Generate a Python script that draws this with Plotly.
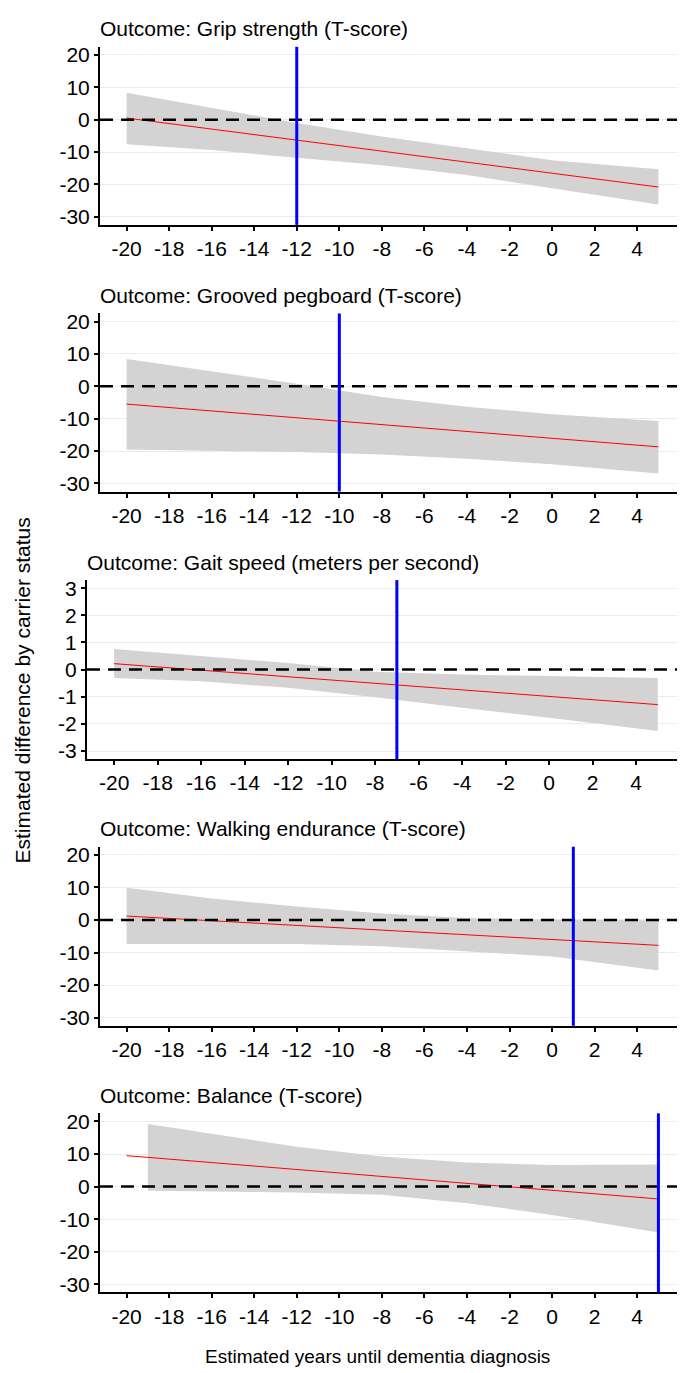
import plotly.graph_objects as go

years = [-20, -16, -12, -8, -4, 0, 5]

titles = [
    "Outcome: Grip strength (T-score)",
    "Outcome: Grooved pegboard (T-score)",
    "Outcome: Gait speed (meters per second)",
    "Outcome: Walking endurance (T-score)",
    "Outcome: Balance (T-score)",
]

grip_est = [0.5, -2.9, -6.3, -9.7, -13.1, -16.5, -20.8]
grip_upper = [8.3, 3.6, -1.0, -5.2, -8.9, -12.5, -15.3]
grip_lower = [-7.6, -9.4, -11.8, -14.1, -17.1, -21.2, -26.2]

peg_est = [-5.5, -7.6, -9.7, -11.8, -13.9, -16.0, -18.7]
peg_upper = [8.4, 4.6, 0.8, -3.3, -6.3, -8.6, -10.7]
peg_lower = [-19.5, -19.8, -20.3, -21.1, -22.4, -24.1, -26.9]

gait_est = [0.22, -0.02, -0.26, -0.50, -0.74, -0.98, -1.29]
gait_upper = [0.76, 0.50, 0.24, -0.08, -0.18, -0.24, -0.31]
gait_lower = [-0.31, -0.43, -0.67, -1.02, -1.41, -1.77, -2.26]

walk_est = [1.2, -0.2, -1.7, -3.1, -4.6, -6.0, -7.8]
walk_upper = [9.9, 6.6, 4.1, 2.0, 0.6, 0.1, -0.1]
walk_lower = [-7.4, -7.4, -7.4, -8.1, -9.7, -11.2, -15.5]

bal_est = [9.5, 7.4, 5.2, 3.1, 1.0, -1.1, -3.8]
bal_ribbon_years = [-19, -16, -12, -8, -4, 0, 5]
bal_upper = [19.2, 16.3, 12.2, 9.2, 7.4, 6.6, 6.8]
bal_lower = [-1.3, -1.5, -1.8, -2.5, -5.1, -8.7, -14.1]

# blue reference line per outcome
vlines = [-12, -10, -7, 1, 5]

x_ticks = list(range(-20, 5, 2))
t_ticks = [-30, -20, -10, 0, 10, 20]
gait_ticks = [-3, -2, -1, 0, 1, 2, 3]

# page body has an 8px margin, so the figure is placed 8px in from the corner
OFF = 8
W, H = 685 - OFF, 1373 - OFF
FONT = "Liberation Sans, Arial, Helvetica, sans-serif"


def px(v):
    return (v - OFF) / W


def py(v):
    return 1 - (v - OFF) / H


def labels(vals):
    return [str(v) for v in vals]


panels = [
    dict(est=grip_est, rx=years, up=grip_upper, lo=grip_lower, ticks=t_ticks, rng=[-32.5, 22.5], left=100, top=43, bottom=222, ty=25),
    dict(est=peg_est, rx=years, up=peg_upper, lo=peg_lower, ticks=t_ticks, rng=[-32.5, 22.5], left=100, top=311, bottom=490, ty=293),
    dict(est=gait_est, rx=years, up=gait_upper, lo=gait_lower, ticks=gait_ticks, rng=[-3.3, 3.3], left=87, top=579, bottom=759, ty=561),
    dict(est=walk_est, rx=years, up=walk_upper, lo=walk_lower, ticks=t_ticks, rng=[-32.5, 22.5], left=100, top=847, bottom=1027, ty=829),
    dict(est=bal_est, rx=bal_ribbon_years, up=bal_upper, lo=bal_lower, ticks=t_ticks, rng=[-32.5, 22.5], left=100, top=1115, bottom=1295, ty=1097),
]

fig = go.Figure()
layout = {}
annotations = []
shapes = []

for i, p in enumerate(panels):
    n = "" if i == 0 else str(i + 1)
    xr, yr = "x" + n, "y" + n

    fig.add_trace(go.Scatter(
        x=p["rx"] + p["rx"][::-1],
        y=p["up"] + p["lo"][::-1],
        fill="toself", fillcolor="#D3D3D3", line=dict(width=0),
        mode="lines", hoverinfo="skip", showlegend=False,
        xaxis=xr, yaxis=yr,
    ))
    fig.add_trace(go.Scatter(
        x=years, y=p["est"], mode="lines",
        line=dict(color="#FF0000", width=1),
        showlegend=False, xaxis=xr, yaxis=yr,
    ))

    layout["xaxis" + n] = dict(
        domain=[px(p["left"]), 1], anchor=yr, range=[-21.25, 6.25],
        tickmode="array", tickvals=x_ticks, ticktext=labels(x_ticks),
        ticks="outside", ticklen=4, tickwidth=1.5, tickcolor="black",
        showline=True, linecolor="black", linewidth=2, showgrid=False, zeroline=False,
        tickfont=dict(size=21, color="black", family=FONT),
    )
    layout["yaxis" + n] = dict(
        domain=[py(p["bottom"]), py(p["top"])], anchor=xr, range=p["rng"],
        tickmode="array", tickvals=p["ticks"], ticktext=labels(p["ticks"]),
        ticks="outside", ticklen=4, tickwidth=1.5, tickcolor="black",
        showline=True, linecolor="black", linewidth=2, showgrid=True, gridcolor="#EBEBEB",
        gridwidth=1, zeroline=False,
        tickfont=dict(size=21, color="black", family=FONT),
    )

    shapes.append(dict(type="line", xref=xr + " domain", yref=yr, x0=0, x1=1, y0=0, y1=0,
                       line=dict(color="black", width=2.5, dash="13px,8px"), layer="above"))
    shapes.append(dict(type="line", xref=xr, yref=yr + " domain", x0=vlines[i], x1=vlines[i], y0=0, y1=1,
                       line=dict(color="#0000FF", width=3), layer="above"))

    annotations.append(dict(text=titles[i], xref="paper", yref="paper", x=px(p["left"] - 2), y=py(p["ty"]),
                            xanchor="left", yanchor="middle", showarrow=False,
                            font=dict(size=21, color="black", family=FONT)))

annotations.append(dict(text="Estimated difference by carrier status", xref="paper", yref="paper",
                        x=px(23), y=py(690), textangle=-90, xanchor="center", yanchor="middle",
                        showarrow=False, font=dict(size=21, color="black", family=FONT)))
annotations.append(dict(text="Estimated years until dementia diagnosis", xref="paper", yref="paper",
                        x=px(377), y=py(1359), xanchor="center", yanchor="middle",
                        showarrow=False, font=dict(size=19, color="black", family=FONT)))

fig.update_layout(
    **layout,
    width=W, height=H,
    margin=dict(l=0, r=0, t=0, b=0),
    paper_bgcolor="white", plot_bgcolor="white",
    annotations=annotations, shapes=shapes,
    showlegend=False,
)

fig.write_html("out.html")
